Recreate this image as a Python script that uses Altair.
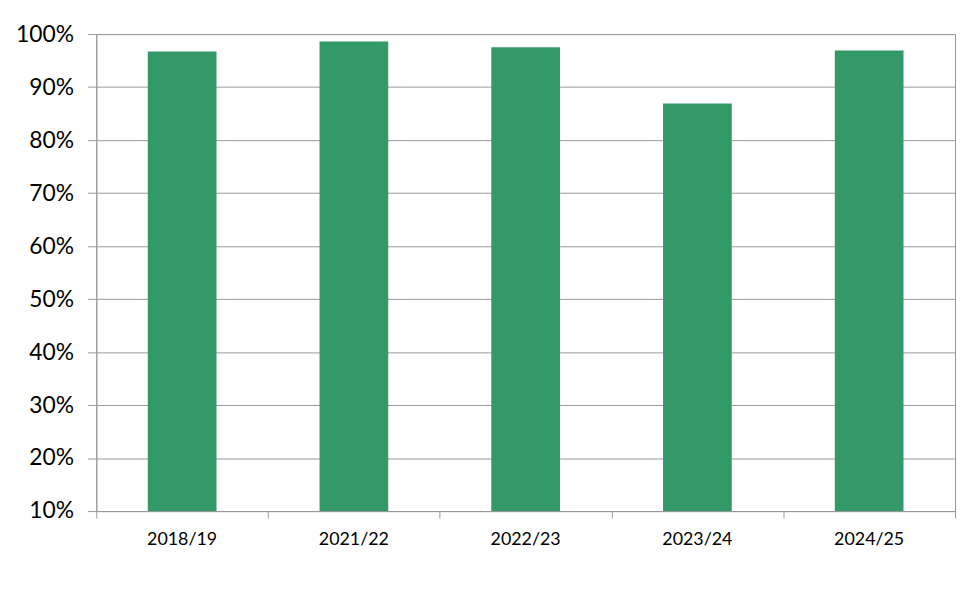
import altair as alt
import pandas as pd

years = ["2018/19", "2021/22", "2022/23", "2023/24", "2024/25"]
values = [0.967, 0.986, 0.975, 0.869, 0.969]
y_ticks = [0.1, 0.2, 0.3, 0.4, 0.5, 0.6, 0.7, 0.8, 0.9, 1.0]

df = pd.DataFrame({"year": years, "value": values})

x_scale = alt.Scale(paddingInner=0, paddingOuter=0)
y_enc = alt.Y("value:Q", title=None,
              scale=alt.Scale(domain=[0.1, 1.0], nice=False, zero=False),
              axis=alt.Axis(values=y_ticks, format=".0%", grid=True,
                            gridColor="#999999", domainColor="#999999",
                            tickColor="#999999", tickSize=9, labelPadding=14,
                            labelFont="Lato", labelFontSize=23,
                            labelColor="#000000"))

bars = alt.Chart(df).mark_bar(
    color="#339966", width=alt.RelativeBandSize(0.4), clip=True
).encode(
    x=alt.X("year:N", sort=years, title=None, scale=x_scale,
            axis=alt.Axis(orient="bottom", tickBand="extent", grid=False,
                          labels=False, domainColor="#999999",
                          tickColor="#999999", tickSize=7)),
    y=y_enc,
)

labels = alt.Chart(df).mark_bar(opacity=0, clip=True).encode(
    x=alt.X("year:N", sort=years, title=None, scale=x_scale,
            axis=alt.Axis(orient="bottom", labelAngle=0, ticks=False,
                          domain=False, grid=False, labelPadding=20,
                          labelFont="Lato", labelFontSize=18,
                          labelColor="#000000")),
    y=y_enc,
)

chart = alt.layer(bars, labels).resolve_axis(x="independent").properties(
    width=866, height=481,
    autosize=alt.AutoSizeParams(type="none"),
    padding={"left": 89, "top": 24, "right": 4, "bottom": 40},
).configure_view(stroke="#999999", strokeWidth=1).configure_axis(
    domainWidth=1, tickWidth=1, gridWidth=1
)

chart.save("out.html", embed_options={"renderer": "svg", "actions": False})
